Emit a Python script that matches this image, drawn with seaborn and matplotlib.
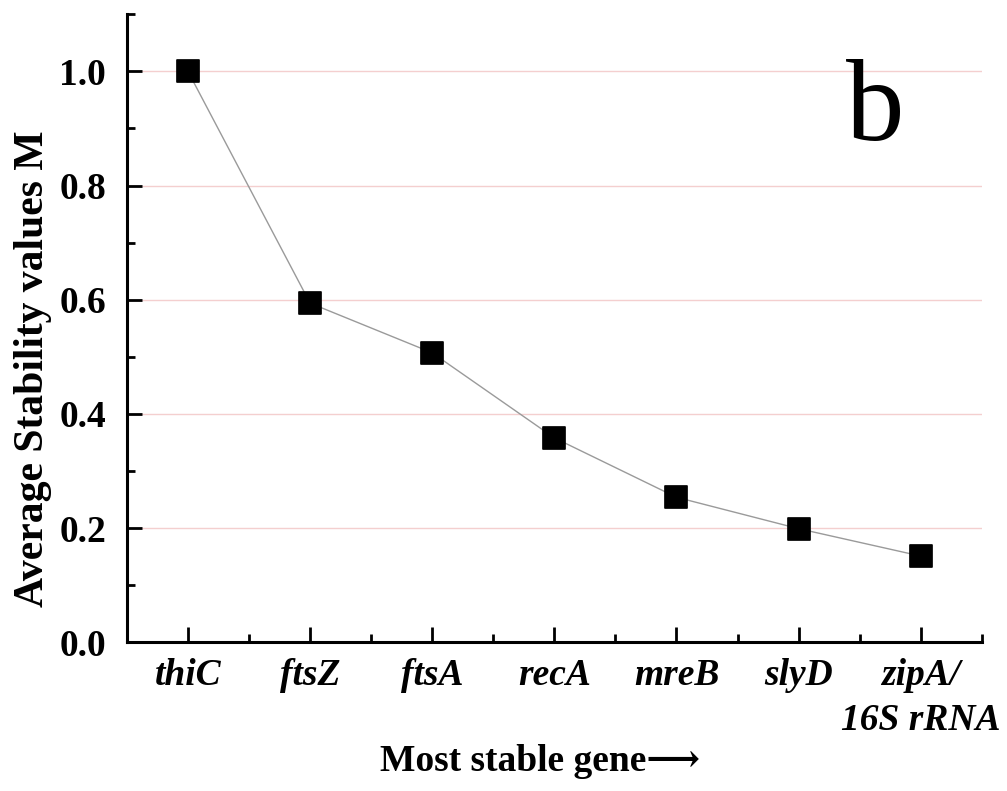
import matplotlib
matplotlib.use("Agg")
import matplotlib.pyplot as plt
import seaborn as sns
import pandas as pd
from matplotlib.ticker import MultipleLocator

genes = ["thiC", "ftsZ", "ftsA", "recA", "mreB", "slyD", "zipA/\n16S rRNA"]
m_values = [1.0, 0.594, 0.507, 0.358, 0.254, 0.199, 0.151]

sns.set_theme(style="ticks")
plt.rcParams["font.family"] = ["Liberation Serif", "DejaVu Serif", "DejaVu Sans"]
plt.rcParams["text.color"] = "black"
plt.rcParams["axes.labelcolor"] = "black"
plt.rcParams["xtick.color"] = "black"
plt.rcParams["ytick.color"] = "black"

df = pd.DataFrame({"gene": genes, "M": m_values, "pos": range(len(genes))})

fig = plt.figure(figsize=(10.07, 7.91), dpi=100)
ax = fig.add_axes([0.126, 0.188, 0.849, 0.794])

for y in [0.2, 0.4, 0.6, 0.8, 1.0]:
    ax.axhline(y, color="#f4cfcf", lw=1.0, zorder=0)

sns.lineplot(data=df, x="pos", y="M", ax=ax, color="#9a9a9a", lw=1.0,
             zorder=2, sort=False)
sns.scatterplot(data=df, x="pos", y="M", ax=ax, marker="s", s=240,
                color="black", edgecolor="black", zorder=3)

ax.set_xlim(-0.5, 6.5)
ax.set_ylim(0, 1.1)
ax.set_xticks(range(len(genes)))
ax.set_xticklabels(genes, fontsize=27, fontstyle="italic", fontweight="bold",
                   linespacing=1.4)
ax.xaxis.set_minor_locator(MultipleLocator(0.5))
ax.set_yticks([0.0, 0.2, 0.4, 0.6, 0.8, 1.0])
ax.set_yticklabels(["0.0", "0.2", "0.4", "0.6", "0.8", "1.0"], fontsize=27,
                   fontweight="bold")
ax.yaxis.set_minor_locator(MultipleLocator(0.1))

ax.tick_params(axis="both", which="major", direction="in", length=11, width=2,
               color="black")
ax.tick_params(axis="both", which="minor", direction="in", length=6, width=2,
               color="black")
ax.tick_params(axis="y", which="major", pad=15)
ax.tick_params(axis="x", which="major", pad=11)

for side in ["top", "right"]:
    ax.spines[side].set_visible(False)
for side in ["left", "bottom"]:
    ax.spines[side].set_linewidth(2.2)
    ax.spines[side].set_color("black")

ax.set_xlabel("Most stable gene\u27f6", fontsize=27, fontweight="bold")
ax.xaxis.set_label_coords(0.483, -0.162)
ax.set_ylabel("Average Stability values M", fontsize=30, fontweight="bold")
ax.yaxis.set_label_coords(-0.088, 0.435)

ax.text(0.875, 0.845, "b", transform=ax.transAxes, fontsize=84,
        ha="center", va="center")

fig.savefig("out.png", dpi=100)
